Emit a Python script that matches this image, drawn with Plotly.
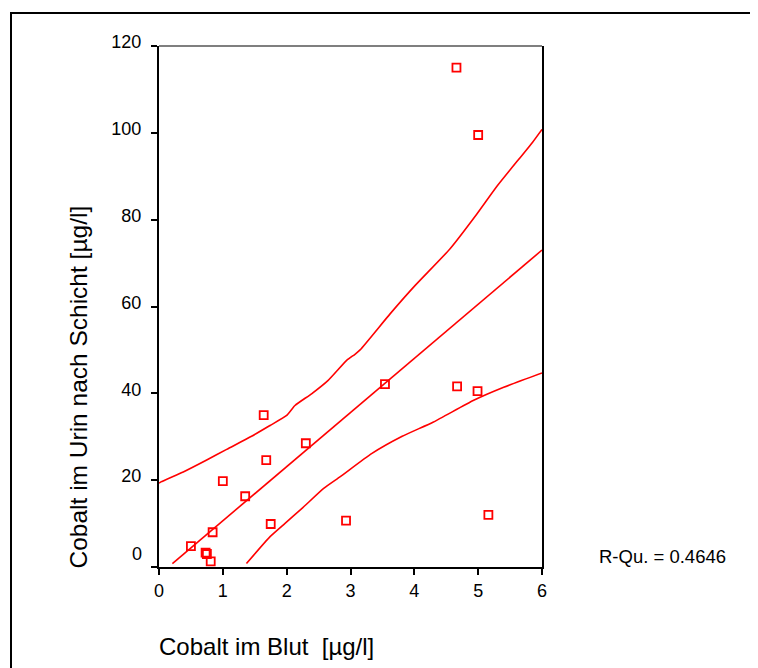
import plotly.graph_objects as go

# Data
blood = [4.66, 5.00, 3.54, 4.67, 4.99, 1.64, 1.68, 2.30, 1.00, 1.35, 1.75, 2.93, 5.16,
         0.84, 0.50, 0.73, 0.75, 0.81]
urine = [115.0, 99.5, 42.1, 41.6, 40.5, 35.0, 24.6, 28.5, 19.8, 16.3, 9.9, 10.7, 12.0,
         8.0, 4.8, 3.3, 3.0, 1.3]

fit_x = [0.21, 6.0]
fit_y = [0.8, 73.0]

upper_x = [0.0, 0.03, 0.38, 0.74, 1.06, 1.45, 1.74, 2.0, 2.13, 2.39, 2.65, 2.94, 3.07,
           3.15, 3.62, 4.01, 4.56, 4.98, 5.30, 5.85, 6.0]
upper_y = [19.3, 19.6, 21.9, 24.6, 27.1, 30.1, 32.6, 34.9, 37.2, 39.9, 43.0, 47.6, 49.0,
           50.0, 58.3, 64.8, 73.3, 81.3, 87.8, 97.8, 100.8]

lower_x = [1.37, 1.74, 1.97, 2.24, 2.58, 2.84, 3.33, 3.81, 4.30, 4.93, 5.40, 6.0]
lower_y = [0.8, 7.0, 10.0, 13.5, 18.1, 20.8, 26.1, 30.1, 33.4, 38.4, 41.4, 44.7]

x_ticks = [0, 1, 2, 3, 4, 5, 6]
y_ticks = [0, 20, 40, 60, 80, 100, 120]
y_ticktext = ["", "20", "40", "60", "80", "100", "120"]

x_title = "Cobalt im Blut \u00a0[µg/l]"
y_title = "Cobalt im Urin nach Schicht [µg/l]"
r_text = "R-Qu. = 0.4646"

RED = "#ff0000"
FONT = "Liberation Sans, Arial, sans-serif"

OFF = 8  # page body margin
W, H = 758 - OFF, 668 - OFF
# plot area in page pixels: x 159..542, y 46..567
PL, PR, PT, PB = 159, 542, 46, 567
L = PL - OFF
T = PT - OFF
R = W - (PR - OFF)
B = H - (PB - OFF)
pw, ph = W - L - R, H - T - B


def px(xp):
    return (xp - OFF - L) / pw


def py(yp):
    return (H - B - (yp - OFF)) / ph


fig = go.Figure()
fig.add_trace(go.Scatter(x=upper_x, y=upper_y, mode="lines",
                         line=dict(color=RED, width=1.6, shape="spline", smoothing=0.5),
                         hoverinfo="skip"))
fig.add_trace(go.Scatter(x=lower_x, y=lower_y, mode="lines",
                         line=dict(color=RED, width=1.6, shape="spline", smoothing=0.5),
                         hoverinfo="skip"))
fig.add_trace(go.Scatter(x=fit_x, y=fit_y, mode="lines",
                         line=dict(color=RED, width=1.6), hoverinfo="skip"))
fig.add_trace(go.Scatter(x=blood, y=urine, mode="markers",
                         marker=dict(symbol="square-open", size=8, color=RED,
                                     line=dict(color=RED, width=1.8))))

fig.update_layout(
    width=W, height=H,
    margin=dict(l=L, r=R, t=T, b=B),
    paper_bgcolor="white", plot_bgcolor="white",
    showlegend=False,
    font=dict(family=FONT, color="black", size=18),
    xaxis=dict(range=[0, 6], tickvals=x_ticks, showgrid=False, zeroline=False,
               showline=True, linecolor="black", linewidth=2,
               ticks="outside", ticklen=6, tickwidth=1.5, tickcolor="black",
               tickfont=dict(size=18, family=FONT, color="black")),
    yaxis=dict(range=[0, 120], tickvals=y_ticks, ticktext=y_ticktext,
               showgrid=False, zeroline=False,
               showline=True, mirror=True, linecolor="black", linewidth=2,
               ticks="outside", ticklen=6, tickwidth=1.5, tickcolor="black",
               ticklabelshift=-4, ticklabelstandoff=6,
               tickfont=dict(size=18, family=FONT, color="black")),
    shapes=[
        # top border of plot area (thin)
        dict(type="line", xref="paper", yref="paper", x0=0, x1=1, y0=1, y1=1,
             line=dict(color="black", width=1.2)),
        # outer frame
        dict(type="rect", xref="paper", yref="paper",
             x0=px(11), x1=px(790), y0=py(700), y1=py(13),
             line=dict(color="black", width=2), fillcolor="rgba(0,0,0,0)"),
    ],
    annotations=[
        dict(text="0", xref="paper", yref="y", x=px(144), y=0, yshift=13,
             xanchor="right", yanchor="middle", showarrow=False,
             font=dict(size=18, family=FONT, color="black")),
        dict(text=r_text, xref="paper", yref="paper", x=px(597), y=py(556),
             xanchor="left", yanchor="middle", showarrow=False,
             font=dict(size=18.5, family=FONT, color="black")),
        dict(text=x_title, xref="paper", yref="paper", x=px(157), y=py(646),
             xanchor="left", yanchor="middle", showarrow=False,
             font=dict(size=24, family=FONT, color="black")),
        dict(text=y_title, xref="paper", yref="paper", x=px(78), y=py(571),
             xanchor="center", yanchor="bottom", textangle=-90, showarrow=False,
             font=dict(size=24.5, family=FONT, color="black")),
    ],
)

fig.write_html("out.html")
